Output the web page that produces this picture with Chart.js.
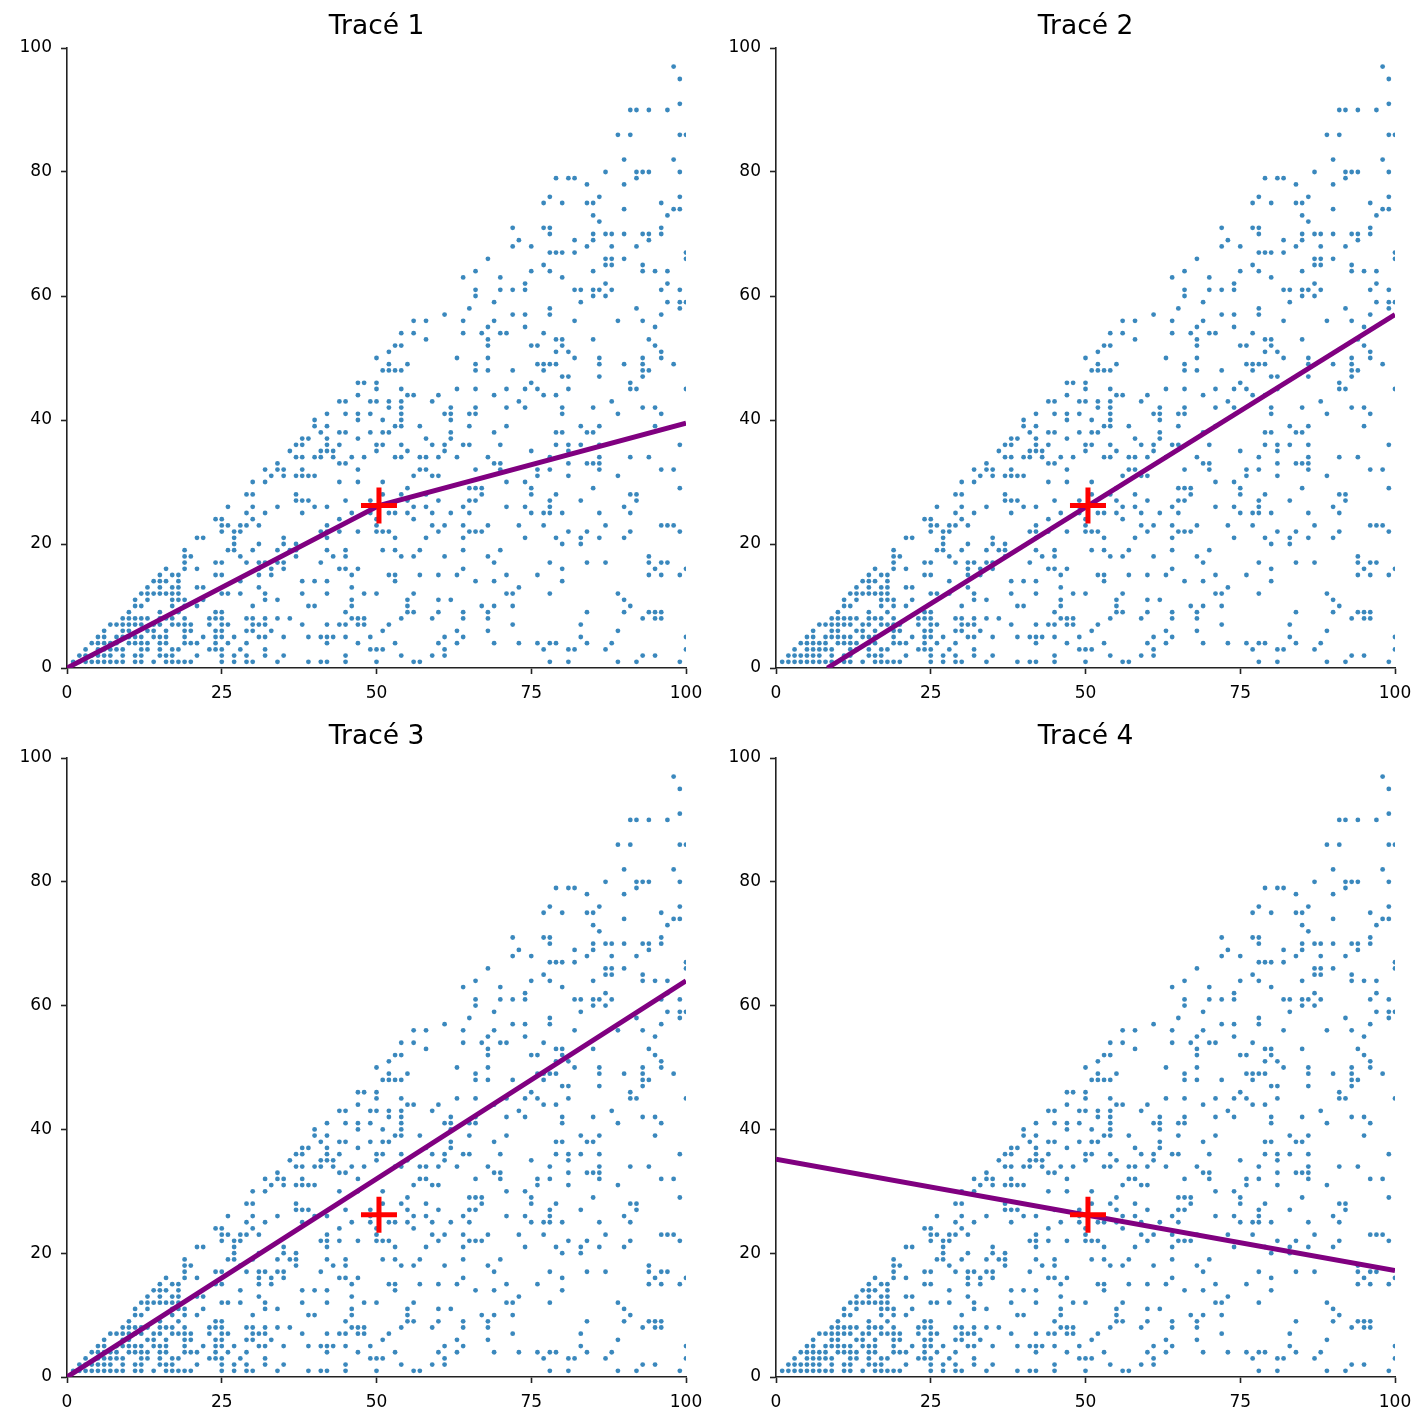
<!DOCTYPE html>
<html>
<head>
<meta charset="utf-8">
<script src="https://cdn.jsdelivr.net/npm/chart.js@4/dist/chart.umd.min.js"></script>
<style>
  body { margin: 0; background: #fff; }
  .cell { position: absolute; }
</style>
</head>
<body>
<div class="cell" id="c1" style="left:0;top:0;width:714px;height:712px"><canvas id="g1"></canvas></div>
<div class="cell" id="c2" style="left:714px;top:0;width:714px;height:712px"><canvas id="g2"></canvas></div>
<div class="cell" id="c3" style="left:0;top:710px;width:714px;height:714px"><canvas id="g3"></canvas></div>
<div class="cell" id="c4" style="left:714px;top:710px;width:714px;height:714px"><canvas id="g4"></canvas></div>
<script>
// points, grouped by y value: [y, [x, x, ...]]
var rowsByY = [
  [1, [1,2,3,4,5,6,7,8,9,11,12,14,16,17,18,19,20,25,27,29,30,34,39,41,42,45,50,56,57,78,81,89,92,99]],
  [2, [2,3,4,5,6,7,9,11,12,15,16,17,21,25,27,29,32,35,45,54,59,61,93,95]],
  [3, [3,5,6,7,8,9,12,13,15,17,18,23,24,25,28,32,49,50,51,61,77,81,82,87,100]],
  [4, [4,5,6,7,8,10,11,12,13,15,16,19,20,21,24,26,29,42,47,53,60,63,69,73,76,78,79,84,88]],
  [5, [5,6,8,9,10,11,12,14,15,16,19,22,24,25,27,31,32,35,39,41,42,43,45,49,61,64,83,100]],
  [6, [6,9,10,13,14,16,19,20,24,25,29,30,33,51,63,68,89]],
  [7, [7,8,9,10,11,12,14,15,17,18,19,20,23,25,26,30,31,32,38,42,44,45,47,48,52,72,83]],
  [8, [9,10,11,12,13,15,16,17,19,23,24,25,29,30,32,34,36,46,47,48,54,59,64,68,93,95,96]],
  [9, [10,15,18,24,25,45,55,56,60,64,68,84,90,94,95,96]],
  [10, [11,12,17,19,21,30,39,40,46,55,67,69,72,91]],
  [11, [11,13,17,18,19,22,32,34,46,55,60,62,90]],
  [12, [12,13,14,15,16,17,18,25,26,28,32,38,42,48,50,56,71,72,78,89]],
  [13, [13,15,17,18,21,22,31,46,73]],
  [14, [14,15,16,18,28,38,40,42,53,66,69,80]],
  [15, [15,17,18,24,25,31,33,46,52,53,57,60,63,71,76,94,96,99]],
  [16, [16,19,21,31,33,35,44,45,47,64,80,95,100]],
  [17, [19,24,25,29,31,32,34,35,41,69,78,84,87,94,96,97]],
  [18, [19,20,28,37,43,45,54,56,61,68,94]],
  [19, [19,26,27,30,34,36,37,42,45,51,53,57,64,70]],
  [20, [27,31,35,37,80,83]],
  [21, [21,22,27,35,42,53,58,64,74,79,83,86,90]],
  [22, [25,27,28,41,42,44,47,50,51,52,60,65,66,67,81,84,91,99]],
  [23, [25,26,28,29,31,42,50,59,61,64,68,73,77,87,96,97,98]],
  [24, [24,25,30,44,50,56]],
  [25, [29,32,38,46,49,52,53,55,59,62,65,75,77,78,80,86,91]],
  [26, [26,30,34,40,42,49,56,58,64,71,74,78,90]],
  [27, [37,38,39,45,49,55,60,65,66,78,83,92]],
  [28, [29,30,37,51,54,58,67,75,79,91,92]],
  [29, [55,65,66,67,75,85,99]],
  [30, [30,32,44,47,51,71,74]],
  [31, [33,35,37,38,39,40,56,59,60,76,81,89]],
  [32, [32,34,35,38,47,57,58,66,70,76,78,86,96,98]],
  [33, [34,44,45,69,70,81,84,85,86]],
  [34, [37,38,40,41,43,46,48,53,54,57,58,60,63,68,78,86,91,94]],
  [35, [36,41,42,43,50,55,61,75,81]],
  [36, [37,38,42,44,50,51,54,59,61,64,65,70,79,81,83,86,99]],
  [37, [38,39,42,47,58,62]],
  [38, [41,44,45,49,51,52,62,69,79,80,84,85]],
  [39, [40,42,53,54,57,65,71,83,86,95]],
  [40, [40,47,51,54,62]],
  [41, [42,45,47,49,54,61,62,65,66,80,89,96]],
  [42, [52,54,62,66,71,74,80,85,93,95]],
  [43, [44,45,49,50,52,54,59,73,88]],
  [44, [47,55,56,60,69,77,79]],
  [45, [50,54,63,66,71,74,76,81,91,92,100]],
  [46, [47,48,50,75,91]],
  [47, [80,81,86,93]],
  [48, [51,52,53,54,66,68,72,77,93,94]],
  [49, [52,55,66,76,77,78,79,86,90,93,98]],
  [50, [50,63,68,82,86,93,96]],
  [51, [52,79,81,96]],
  [52, [53,54,68,75,76,80,95]],
  [53, [58,68,79,80,85,94]],
  [54, [54,56,64,67,70,71,77]],
  [55, [68,74,95]],
  [56, [56,58,64,69,82,89,93]],
  [57, [61,72,74,78,96]],
  [58, [65,78,92,99]],
  [59, [69,83,97,99,100]],
  [60, [66,85,87]],
  [61, [66,70,72,74,82,83,85,86,88,96,99]],
  [62, [74,87,97]],
  [63, [64,70,80]],
  [64, [66,75,78,85,93,95,97]],
  [65, [77,87,88,93]],
  [66, [68,87,88,90,100]],
  [67, [78,79,80,82,100]],
  [68, [72,75,84,88,92]],
  [69, [73,82,85,94]],
  [70, [78,85,87,88,90,93,94,96]],
  [71, [72,77,78,96]],
  [72, [86]],
  [73, [85,97]],
  [74, [90,98,99]],
  [75, [77,80,84,85,96]],
  [76, [78,86,99]],
  [78, [84,90]],
  [79, [79,81,82,92]],
  [80, [87,92,93,94,99]],
  [82, [90,98]],
  [86, [89,91,99,100]],
  [90, [91,92,94,97]],
  [91, [99]],
  [95, [99]],
  [97, [98]]
];

// mean point (red cross)
var meanX = 50.4, meanY = 26.2;

// fitted lines, one per panel
var titles = ['Tracé 1', 'Tracé 2', 'Tracé 3', 'Tracé 4'];
var lineX = [[0, 50.4, 100], [8.3, 100], [0, 100], [0, 100]];
var lineY = [[0, 26.2, 39.5], [0, 57], [0, 64], [35.2, 17.2]];

var xTicks = [0, 25, 50, 75, 100];
var yTicks = [0, 20, 40, 60, 80, 100];

var pts = [];
rowsByY.forEach(function (r) {
  r[1].forEach(function (x) { pts.push({x: x, y: r[0]}); });
});

// y-axis width and right padding so plot areas line up with the reference
var yAxisW = [67, 62, 67, 62];
var padR = [28, 33, 28, 33];
var xAxisH = [44, 44, 47, 47];

var font = 'DejaVu Sans';

// title centred over the plot area, like matplotlib does
var axTitle = {
  id: 'axTitle',
  afterDraw: function (chart) {
    var a = chart.chartArea, c = chart.ctx;
    c.save();
    c.fillStyle = '#000';
    c.font = '26.5px "' + font + '"';
    c.textAlign = 'center';
    c.textBaseline = 'alphabetic';
    c.fillText(chart.options.plugins.axTitle.text, (a.left + a.right) / 2, 34.3);
    c.restore();
  }
};

for (var i = 0; i < 4; i++) {
  (function (i) {
    var lx = lineX[i], ly = lineY[i];
    var linePts = lx.map(function (v, k) { return {x: v, y: ly[k]}; });
    new Chart(document.getElementById('g' + (i + 1)), {
      type: 'scatter',
      plugins: [axTitle],
      data: {
        datasets: [
          {
            data: [{x: meanX, y: meanY}],
            pointStyle: 'cross',
            pointRadius: 18,
            borderColor: '#ff0000',
            borderWidth: 5,
            order: 1
          },
          {
            data: linePts,
            showLine: true,
            borderColor: '#800080',
            borderWidth: 5,
            pointRadius: 0,
            clip: 0,
            order: 2
          },
          {
            data: pts,
            pointRadius: 2.4,
            backgroundColor: 'rgba(31,119,180,0.88)',
            borderWidth: 0,
            clip: 0,
            order: 3
          }
        ]
      },
      options: {
        responsive: true,
        maintainAspectRatio: false,
        animation: false,
        layout: { padding: { left: 0, right: padR[i], top: 48, bottom: 0 } },
        plugins: {
          legend: { display: false },
          tooltip: { enabled: false },
          title: { display: false },
          axTitle: { text: titles[i] }
        },
        scales: {
          x: {
            type: 'linear', min: 0, max: 100,
            afterFit: function (s) { s.height = xAxisH[i]; },
            afterBuildTicks: function (s) { s.ticks = xTicks.map(function (v) { return {value: v}; }); },
            ticks: { color: '#000', padding: 9, font: { family: font, size: 17 } },
            grid: { drawOnChartArea: false, tickLength: 6, tickWidth: 1.6, tickColor: '#222' },
            border: { display: true, color: '#222', width: 1.6 }
          },
          y: {
            type: 'linear', min: 0, max: 100,
            afterFit: function (s) { s.width = yAxisW[i]; },
            afterBuildTicks: function (s) { s.ticks = yTicks.map(function (v) { return {value: v}; }); },
            ticks: { color: '#000', padding: 9, font: { family: font, size: 17 } },
            grid: { drawOnChartArea: false, tickLength: 6, tickWidth: 1.6, tickColor: '#222' },
            border: { display: true, color: '#222', width: 1.6 }
          }
        }
      }
    });
  })(i);
}
</script>
</body>
</html>
